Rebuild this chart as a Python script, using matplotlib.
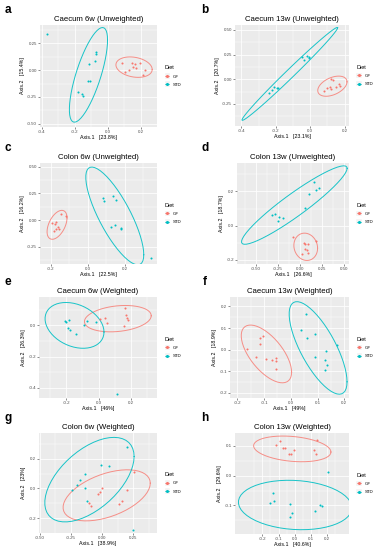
import numpy as np
import matplotlib
matplotlib.use("Agg")
import matplotlib.pyplot as plt
from matplotlib.lines import Line2D
from matplotlib.patches import Rectangle
from matplotlib.legend_handler import HandlerBase

plt.rcParams['font.family'] = ['Liberation Sans', 'DejaVu Sans']

GF_COLOR = '#F8766D'
STD_COLOR = '#00BFC4'

# ---------------- data (PCoA coordinates) -------------
titles = ["Caecum 6w (Unweighted)", "Caecum 13w (Unweighted)",
          "Colon 6w (Unweighted)", "Colon 13w (Unweighted)",
          "Caecum 6w (Weighted)", "Caecum 13w (Weighted)",
          "Colon 6w (Weighted)", "Colon 13w (Weighted)"]
letters = ["a", "b", "c", "d", "e", "f", "g", "h"]
xlabels = ["Axis.1   [23.8%]", "Axis.1   [23.1%]", "Axis.1   [22.5%]", "Axis.1   [26.6%]",
           "Axis.1   [46%]", "Axis.1   [49%]", "Axis.1   [38.9%]", "Axis.1   [40.6%]"]
ylabels = ["Axis.2   [15.4%]", "Axis.2   [20.7%]", "Axis.2   [16.2%]", "Axis.2   [18.7%]",
           "Axis.2   [26.3%]", "Axis.2   [18.9%]", "Axis.2   [23%]", "Axis.2   [29.6%]"]
groups = ["GF", "STD"]
legend_title = "Diet"

a_gf_x = [0.087, 0.103, 0.129, 0.147, 0.150, 0.164, 0.168, 0.192, 0.214, 0.226]
a_gf_y = [0.062, -0.021, 0.000, 0.062, 0.031, 0.053, 0.019, 0.062, -0.043, 0.000]
a_std_x = [-0.368, -0.075, -0.071, -0.081, -0.115, -0.119, -0.109, -0.182, -0.160, -0.152]
a_std_y = [0.330, 0.164, 0.145, 0.083, 0.056, -0.105, -0.105, -0.207, -0.222, -0.238]

b_gf_x = [0.079, 0.097, 0.112, 0.123, 0.123, 0.133, 0.149, 0.166, 0.174]
b_gf_y = [-0.121, -0.085, -0.081, -0.101, 0.000, -0.010, -0.080, -0.048, -0.065]
b_std_x = [-0.047, -0.037, -0.018, -0.010, -0.005, -0.237, -0.222, -0.208, -0.192, -0.187]
b_std_y = [0.223, 0.195, 0.236, 0.229, 0.219, -0.135, -0.108, -0.081, -0.091, -0.091]

c_gf_x = [-0.143, -0.116, -0.191, -0.173, -0.177, -0.159, -0.153, -0.171, -0.180]
c_gf_y = [0.056, 0.034, -0.025, -0.019, -0.037, -0.063, -0.079, -0.084, -0.100]
c_std_x = [0.084, 0.090, 0.135, 0.153, 0.128, 0.149, 0.178, 0.178, 0.342]
c_std_y = [0.206, 0.181, 0.225, 0.184, -0.060, -0.050, -0.069, -0.081, -0.356]

d_gf_x = [-0.076, 0.042, 0.061, 0.091, 0.178, 0.053, 0.083, 0.091, 0.027]
d_gf_y = [-0.068, -0.104, -0.106, -0.106, -0.090, -0.135, -0.145, -0.159, -0.165]
d_std_x = [0.159, 0.212, 0.178, 0.102, 0.057, -0.318, -0.288, -0.242, -0.197, -0.254]
d_std_y = [0.253, 0.218, 0.206, 0.188, 0.106, 0.065, 0.067, 0.053, 0.047, 0.028]

e_gf_x = [0.010, 0.037, 0.053, 0.161, 0.171, 0.174, 0.182, 0.157]
e_gf_y = [0.040, 0.044, 0.015, 0.110, 0.063, 0.046, 0.034, -0.004]
e_std_x = [-0.209, -0.199, -0.184, -0.189, -0.180, -0.139, -0.089, -0.071, -0.015, 0.112]
e_std_y = [0.027, 0.021, 0.036, -0.015, -0.032, -0.055, 0.004, 0.025, 0.021, -0.442]

f_gf_x = [-0.163, -0.131, -0.116, -0.106, -0.115, -0.094, -0.069, -0.056, -0.056, -0.056]
f_gf_y = [0.002, -0.035, 0.055, 0.063, 0.026, -0.041, -0.049, -0.038, -0.051, -0.090]
f_std_x = [0.055, 0.039, 0.060, 0.089, 0.089, 0.130, 0.129, 0.135, 0.129, 0.174]
f_std_y = [0.163, 0.089, 0.055, 0.074, -0.032, -0.005, -0.049, -0.072, -0.092, 0.020]

g_gf_x = [0.252, 0.000, -0.013, -0.037, 0.196, 0.158, 0.137, -0.107, -0.093]
g_gf_y = [0.112, 0.000, -0.027, -0.036, -0.013, -0.081, -0.103, -0.101, -0.116]
g_std_x = [0.198, -0.010, 0.054, -0.137, -0.177, -0.203, -0.244, -0.139, -0.125, 0.247]
g_std_y = [0.275, 0.157, 0.148, 0.094, 0.058, 0.023, -0.013, 0.005, -0.087, -0.277]

h_gf_x = [-0.117, -0.088, -0.075, -0.061, -0.038, -0.022, -0.003, 0.118, 0.136, 0.134]
h_gf_y = [0.104, 0.117, 0.093, 0.091, 0.071, 0.071, 0.087, 0.087, 0.120, 0.074]
h_std_x = [0.206, -0.136, -0.129, -0.150, -0.030, -0.017, -0.026, 0.128, 0.159, 0.167]
h_std_y = [0.011, -0.058, -0.084, -0.091, -0.094, -0.125, -0.139, -0.118, -0.100, -0.103]

# tick labels per panel
a_xticks = ["-0.4", "-0.2", "0.0", "0.2"];  a_yticks = ["-0.50", "-0.25", "0.00", "0.25"]
b_xticks = ["-0.4", "-0.2", "0.0", "0.2"];  b_yticks = ["-0.25", "0.00", "0.25", "0.50"]
c_xticks = ["-0.2", "0.0", "0.2"];          c_yticks = ["-0.25", "0.00", "0.25", "0.50"]
d_xticks = ["-0.50", "-0.25", "0.00", "0.25", "0.50"]; d_yticks = ["-0.2", "0.0", "0.2"]
e_xticks = ["-0.2", "0.0", "0.2"];          e_yticks = ["-0.4", "-0.2", "0.0"]
f_xticks = ["-0.2", "-0.1", "0.0", "0.1", "0.2"]; f_yticks = ["-0.2", "-0.1", "0.0", "0.1", "0.2"]
g_xticks = ["-0.50", "-0.25", "0.00", "0.25"]; g_yticks = ["-0.2", "0.0", "0.2"]
h_xticks = ["-0.2", "-0.1", "0.0", "0.1", "0.2"]; h_yticks = ["-0.1", "0.0", "0.1"]

# axis limits (xmin, xmax, ymin, ymax)
a_lim = (-0.412, 0.297, -0.528, 0.417)
b_lim = (-0.437, 0.225, -0.473, 0.550)
c_lim = (-0.258, 0.375, -0.410, 0.534)
d_lim = (-0.716, 0.557, -0.225, 0.367)
e_lim = (-0.369, 0.362, -0.465, 0.180)
f_lim = (-0.228, 0.218, -0.224, 0.244)
g_lim = (-0.506, 0.440, -0.299, 0.372)
h_lim = (-0.370, 0.337, -0.196, 0.143)

# panel boxes in pixels (left, top, right, bottom)
boxes = [(40, 25, 157, 127), (235, 25, 349, 126),
         (40, 163, 157, 264), (237, 163, 349, 264),
         (39, 297, 157, 398), (230, 297, 349, 398),
         (39, 433, 157, 533), (235, 433, 349, 534)]

panels = [
    (a_gf_x, a_gf_y, a_std_x, a_std_y, a_xticks, a_yticks, a_lim),
    (b_gf_x, b_gf_y, b_std_x, b_std_y, b_xticks, b_yticks, b_lim),
    (c_gf_x, c_gf_y, c_std_x, c_std_y, c_xticks, c_yticks, c_lim),
    (d_gf_x, d_gf_y, d_std_x, d_std_y, d_xticks, d_yticks, d_lim),
    (e_gf_x, e_gf_y, e_std_x, e_std_y, e_xticks, e_yticks, e_lim),
    (f_gf_x, f_gf_y, f_std_x, f_std_y, f_xticks, f_yticks, f_lim),
    (g_gf_x, g_gf_y, g_std_x, g_std_y, g_xticks, g_yticks, g_lim),
    (h_gf_x, h_gf_y, h_std_x, h_std_y, h_xticks, h_yticks, h_lim),
]


def cov_trob(x, nu=5, maxit=25, tol=0.01):
    n, p = x.shape
    wt = np.ones(n)
    loc = x.mean(axis=0)
    w = np.sqrt(wt)
    X = x - loc
    for _ in range(maxit):
        w0 = w
        X = x - loc
        sw = np.sqrt(w / w.sum())
        _, d, vt = np.linalg.svd(sw[:, None] * X, full_matrices=False)
        wX = X @ vt.T @ np.diag(1.0 / d)
        Q = (wX ** 2).sum(axis=1)
        w = (wt * (nu + p)) / (nu + Q)
        loc = (w[:, None] * x).sum(axis=0) / w.sum()
        if np.all(np.abs(w - w0) < tol):
            break
    cov = (np.sqrt(w)[:, None] * X).T @ (np.sqrt(w)[:, None] * X) / wt.sum()
    return loc, cov


def ellipse_pts(xs, ys, level=0.95, segments=51):
    pts = np.column_stack([xs, ys]).astype(float)
    n = len(pts)
    center, shape = cov_trob(pts)
    dfn, dfd = 2, n - 1
    fq = dfd / 2.0 * ((1 - level) ** (-2.0 / dfd) - 1)
    radius = np.sqrt(dfn * fq)
    chol = np.linalg.cholesky(shape).T
    ang = np.arange(segments + 1) * 2 * np.pi / segments
    circ = np.column_stack([np.cos(ang), np.sin(ang)])
    e = center + radius * (circ @ chol)
    return e[:, 0], e[:, 1]


class KeyHandler(HandlerBase):
    """ggplot-like legend key: grey square with a line and a point."""
    def __init__(self, color):
        super().__init__()
        self.color = color

    def create_artists(self, legend, orig_handle, xdescent, ydescent,
                       width, height, fontsize, trans):
        side = max(width, height * 1.6)
        cy = height / 2 - ydescent
        x0 = -xdescent
        rect = Rectangle((x0, cy - side / 2), side, side, facecolor='#F2F2F2',
                         edgecolor='white', lw=0.3, transform=trans)
        line = Line2D([x0 + 0.5, x0 + side - 0.5], [cy, cy], color=self.color,
                      lw=0.5, transform=trans)
        dot = Line2D([x0 + side / 2], [cy], marker='o', markersize=1.2,
                     color=self.color, lw=0, transform=trans)
        return [rect, line, dot]


W, H = 384, 550
fig = plt.figure(figsize=(W / 100, H / 100), dpi=100)
fig.patch.set_facecolor('white')

for i, (gx, gy, sx, sy, xt, yt, lim) in enumerate(panels):
    l, t, r, b = boxes[i]
    ax = fig.add_axes([l / W, 1 - b / H, (r - l) / W, (b - t) / H])
    ax.set_facecolor('#EBEBEB')
    for s in ax.spines.values():
        s.set_visible(False)
    xv = [float(v) for v in xt]
    yv = [float(v) for v in yt]
    ax.set_xticks(xv)
    ax.set_xticklabels(xt)
    ax.set_yticks(yv)
    ax.set_yticklabels(yt)
    dx = xv[1] - xv[0]
    dy = yv[1] - yv[0]
    ax.set_xticks(np.arange(xv[0] - dx / 2, lim[1], dx), minor=True)
    ax.set_yticks(np.arange(yv[0] - dy / 2, lim[3], dy), minor=True)
    ax.grid(True, which='major', color='white', lw=0.55)
    ax.grid(True, which='minor', color='white', lw=0.3)
    ax.set_axisbelow(True)
    ax.tick_params(which='major', length=1.2, width=0.4, color='#333333',
                   labelsize=3.2, labelcolor='#4D4D4D', pad=1)
    ax.tick_params(which='minor', length=0)

    ex, ey = ellipse_pts(gx, gy)
    ax.plot(ex, ey, color=GF_COLOR, lw=0.7, alpha=0.8)
    ex, ey = ellipse_pts(sx, sy)
    ax.plot(ex, ey, color=STD_COLOR, lw=0.7, alpha=0.9)
    ax.scatter(gx, gy, s=2.2, color=GF_COLOR, linewidths=0, zorder=3)
    ax.scatter(sx, sy, s=2.2, color=STD_COLOR, linewidths=0, zorder=3)

    ax.set_xlim(lim[0], lim[1])
    ax.set_ylim(lim[2], lim[3])
    ax.set_title(titles[i], fontsize=5.6, pad=3)
    ax.set_xlabel(xlabels[i], fontsize=3.8, labelpad=1)
    ax.set_ylabel(ylabels[i], fontsize=3.8, labelpad=1.5)

    h_gf = Line2D([0], [0], color=GF_COLOR)
    h_std = Line2D([0], [0], color=STD_COLOR)
    leg = ax.legend([h_gf, h_std], groups, title=legend_title, loc='center left',
                    bbox_to_anchor=(1.05, 0.5), frameon=False, fontsize=3.2,
                    title_fontsize=4, handlelength=1.2, handletextpad=0.6,
                    labelspacing=0.9, borderaxespad=0,
                    handler_map={h_gf: KeyHandler(GF_COLOR),
                                 h_std: KeyHandler(STD_COLOR)})
    leg._legend_box.align = "left"

    fig.text(8 / W if i % 2 == 0 else 205 / W, 1 - (t - 15) / H, letters[i],
             fontsize=8.5, fontweight='bold', ha='center', va='center')

fig.savefig('out.png', dpi=100, facecolor='white')
